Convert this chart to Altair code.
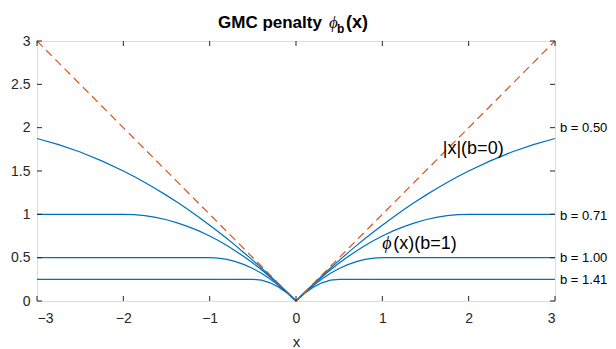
import altair as alt
import pandas as pd

# ---- data ----
x_grid = [-3.0, -2.75, -2.5, -2.25, -2.0, -1.875, -1.75, -1.625, -1.5, -1.375, -1.25, -1.125, -1.0,
          -0.9, -0.8, -0.7, -0.6, -0.5, -0.4, -0.3, -0.2, -0.1, 0.0,
          0.1, 0.2, 0.3, 0.4, 0.5, 0.6, 0.7, 0.8, 0.9,
          1.0, 1.125, 1.25, 1.375, 1.5, 1.625, 1.75, 1.875, 2.0, 2.25, 2.5, 2.75, 3.0]

y_b050 = [1.875, 1.805, 1.719, 1.617, 1.5, 1.436, 1.367, 1.295, 1.219, 1.139, 1.055, 0.967, 0.875,
          0.799, 0.72, 0.639, 0.555, 0.469, 0.38, 0.289, 0.195, 0.099, 0.0,
          0.099, 0.195, 0.289, 0.38, 0.469, 0.555, 0.639, 0.72, 0.799,
          0.875, 0.967, 1.055, 1.139, 1.219, 1.295, 1.367, 1.436, 1.5, 1.617, 1.719, 1.805, 1.875]
y_b071 = [1.0, 1.0, 1.0, 1.0, 1.0, 0.996, 0.984, 0.965, 0.9375, 0.902, 0.859, 0.809, 0.75,
          0.6975, 0.64, 0.5775, 0.51, 0.4375, 0.36, 0.2775, 0.19, 0.0975, 0.0,
          0.0975, 0.19, 0.2775, 0.36, 0.4375, 0.51, 0.5775, 0.64, 0.6975,
          0.75, 0.809, 0.859, 0.902, 0.9375, 0.965, 0.984, 0.996, 1.0, 1.0, 1.0, 1.0, 1.0]
y_b100 = [0.5, 0.5, 0.5, 0.5, 0.5, 0.5, 0.5, 0.5, 0.5, 0.5, 0.5, 0.5, 0.5,
          0.495, 0.48, 0.455, 0.42, 0.375, 0.32, 0.255, 0.18, 0.095, 0.0,
          0.095, 0.18, 0.255, 0.32, 0.375, 0.42, 0.455, 0.48, 0.495,
          0.5, 0.5, 0.5, 0.5, 0.5, 0.5, 0.5, 0.5, 0.5, 0.5, 0.5, 0.5, 0.5]
y_b141 = [0.25, 0.25, 0.25, 0.25, 0.25, 0.25, 0.25, 0.25, 0.25, 0.25, 0.25, 0.25, 0.25,
          0.25, 0.25, 0.25, 0.25, 0.25, 0.24, 0.21, 0.16, 0.09, 0.0,
          0.09, 0.16, 0.21, 0.24, 0.25, 0.25, 0.25, 0.25, 0.25,
          0.25, 0.25, 0.25, 0.25, 0.25, 0.25, 0.25, 0.25, 0.25, 0.25, 0.25, 0.25, 0.25]

abs_x = [-3.0, 0.0, 3.0]
abs_y = [3.0, 0.0, 3.0]

b_labels = ["b = 0.50", "b = 0.71", "b = 1.00", "b = 1.41"]
b_label_y = [2.0, 0.98, 0.5, 0.24]

x_ticks = [-3, -2, -1, 0, 1, 2, 3]
y_ticks = [0, 0.5, 1, 1.5, 2, 2.5, 3]

# ---- tables ----
rows = []
for name, ys in [("0.50", y_b050), ("0.71", y_b071), ("1.00", y_b100), ("1.41", y_b141)]:
    for xv, yv in zip(x_grid, ys):
        rows.append({"x": xv, "y": yv, "b": name})
curves = pd.DataFrame(rows)
absdf = pd.DataFrame({"x": abs_x, "y": abs_y})
lab_df = pd.DataFrame({"x": [3.0] * 4, "y": b_label_y, "t": b_labels})
xt = pd.DataFrame({"x": x_ticks})
yt = pd.DataFrame({"y": y_ticks})

W, H = 518, 260
FONT = "Liberation Sans"
AX = "#262626"
BLUE = "#0072BD"
ORANGE = "#D95319"

xs = alt.Scale(domain=[-3, 3], nice=False, zero=False)
ys_ = alt.Scale(domain=[0, 3], nice=False, zero=False)

xax = alt.Axis(values=x_ticks, format="~g", ticks=False, domain=False, grid=False, labelFontSize=14,
               labelPadding=10, labelColor=AX, labelFont=FONT, title="x", titleFont=FONT,
               titleFontSize=15, titleFontWeight="normal", titleColor=AX, titlePadding=9)
yax = alt.Axis(values=y_ticks, format="~g", ticks=False, domain=False, grid=False, labelFontSize=14,
               labelPadding=7, labelColor=AX, labelFont=FONT, title=None)

lines = alt.Chart(curves).mark_line(color=BLUE, strokeWidth=1.25).encode(
    x=alt.X("x:Q", scale=xs, axis=xax),
    y=alt.Y("y:Q", scale=ys_, axis=yax),
    detail="b:N",
)
absline = alt.Chart(absdf).mark_line(color=ORANGE, strokeWidth=1.2, strokeDash=[8, 5]).encode(
    x=alt.X("x:Q", scale=xs), y=alt.Y("y:Q", scale=ys_))

tick_b = alt.Chart(xt).mark_rule(color=AX).encode(x=alt.X("x:Q", scale=xs), y=alt.value(H), y2=alt.value(H - 5))
tick_t = alt.Chart(xt).mark_rule(color=AX).encode(x=alt.X("x:Q", scale=xs), y=alt.value(0), y2=alt.value(5))
tick_l = alt.Chart(yt).mark_rule(color=AX).encode(y=alt.Y("y:Q", scale=ys_), x=alt.value(0), x2=alt.value(5))
tick_r = alt.Chart(yt).mark_rule(color=AX).encode(y=alt.Y("y:Q", scale=ys_), x=alt.value(W), x2=alt.value(W - 5))

blabels = alt.Chart(lab_df).mark_text(align="left", baseline="middle", dx=5, fontSize=13,
                                      font=FONT, color="black").encode(
    x=alt.X("x:Q", scale=xs), y=alt.Y("y:Q", scale=ys_), text="t:N")

ann1 = alt.Chart(pd.DataFrame({"x": [1.7], "y": [1.75], "t": ["|x|(b=0)"]})).mark_text(
    align="left", baseline="middle", fontSize=18, font=FONT, color="black").encode(
    x=alt.X("x:Q", scale=xs), y=alt.Y("y:Q", scale=ys_), text="t:N")
ann2a = alt.Chart(pd.DataFrame({"x": [1.0], "y": [0.66], "t": ["ϕ"]})).mark_text(
    align="left", baseline="middle", fontSize=18, font="Liberation Serif", fontStyle="italic",
    color="black").encode(x=alt.X("x:Q", scale=xs), y=alt.Y("y:Q", scale=ys_), text="t:N")
ann2b = alt.Chart(pd.DataFrame({"x": [1.0], "y": [0.66], "t": ["(x)(b=1)"]})).mark_text(
    align="left", baseline="middle", dx=11, fontSize=18, font=FONT, color="black").encode(
    x=alt.X("x:Q", scale=xs), y=alt.Y("y:Q", scale=ys_), text="t:N")

def title_piece(text, x, y, **kw):
    return alt.Chart(pd.DataFrame({"t": [text]})).mark_text(align="left", baseline="alphabetic", **kw).encode(
        x=alt.value(x), y=alt.value(y), text="t:N")

t1 = title_piece("GMC penalty", 181, -13, fontSize=17, fontWeight="bold", font=FONT, color="black")
t2 = title_piece("ϕ", 292, -13, fontSize=17, font="Liberation Serif", fontStyle="italic", color="black")
t3 = title_piece("b", 300, -8, fontSize=12, fontWeight="bold", font=FONT, color="black")
t4 = title_piece("(x)", 309, -13, fontSize=18, fontWeight="bold", font=FONT, color="black")

chart = alt.layer(lines, absline, tick_b, tick_t, tick_l, tick_r, blabels, ann1, ann2a, ann2b,
                  t1, t2, t3, t4).properties(
    width=W, height=H,
    autosize=alt.AutoSizeParams(type="none"),
    padding={"left": 29, "top": 33, "right": 53, "bottom": 48},
).configure_view(stroke=AX, strokeWidth=1).configure(background="white")

chart.save("out.html", embed_options={"renderer": "svg", "actions": False})
